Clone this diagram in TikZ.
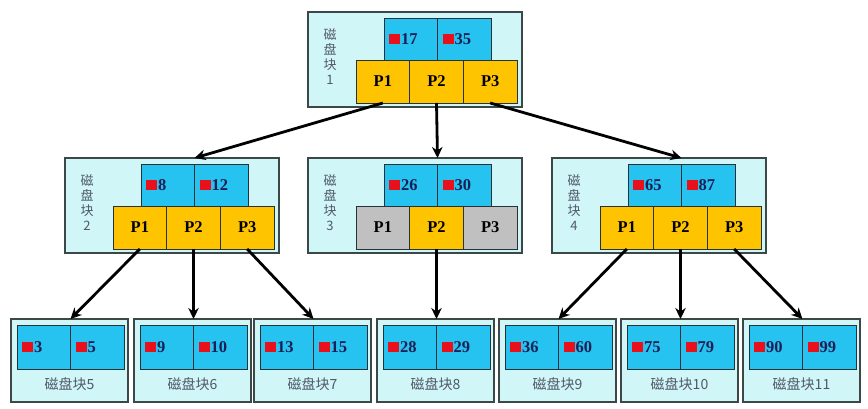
\documentclass[tikz,border=0pt]{standalone}
\usepackage{fontspec}
\setmainfont{Liberation Serif}
\newfontfamily\cjk{Noto Sans CJK SC}
\usetikzlibrary{arrows.meta}
\definecolor{pale}{HTML}{D0F6F7}
\definecolor{keyc}{HTML}{26C2F0}
\definecolor{pyel}{HTML}{FFC400}
\definecolor{pgray}{HTML}{C0C0C0}
\definecolor{bord}{HTML}{3C4848}
\definecolor{cellb}{HTML}{283038}
\definecolor{navy}{HTML}{1A1F55}
\definecolor{lab}{HTML}{505868}
\definecolor{sq}{HTML}{E8101A}
\tikzset{
  outerbox/.style={draw=bord, line width=1.4pt, fill=pale, inner sep=0pt, outer sep=0pt, anchor=north west},
  keycell/.style={draw=cellb, line width=0.9pt, fill=keyc, inner sep=0pt, outer sep=0pt, anchor=north west, minimum width=53.5pt, minimum height=#1},
  pcell/.style={draw=cellb, line width=0.9pt, fill=#1, inner sep=0pt, outer sep=0pt, anchor=north west, minimum width=53.67pt, minimum height=43pt, font=\bfseries\fontsize{16.5}{16.5}\selectfont},
  keytext/.style={anchor=west, inner sep=0pt, font=\bfseries\fontsize{16.5}{16.5}\selectfont, text=navy},
  arr/.style={-{Stealth[length=11pt,width=10.5pt]}, line width=2.8pt, black},
  vlabel/.style={align=center, inner sep=0pt, text=lab, font=\cjk\fontsize{13}{15}\selectfont},
  leaflabel/.style={inner sep=0pt, text=lab, font=\cjk\fontsize{14}{14}\selectfont}
}
\newcommand\redsq{\textcolor{sq}{\raisebox{0.5pt}{\rule{11pt}{9.5pt}}}\hspace{1pt}}
% name, X, Y, k1, k2, digit, fill p1, fill p3
\newcommand\ublock[8]{%
  \node[outerbox, minimum width=214pt, minimum height=95pt] (#1) at (#2,#3) {};
  \node[keycell=42pt] (#1k1) at (#2+76,#3+6) {};
  \node[keycell=42pt] (#1k2) at (#2+129.5,#3+6) {};
  \node[keytext] (#1t1) at ([xshift=5pt]#1k1.west) {\redsq#4};
  \node[keytext] (#1t2) at ([xshift=5pt]#1k2.west) {\redsq#5};
  \node[pcell=#7] (#1p1) at (#2+48,#3+48) {P1};
  \node[pcell=pyel] (#1p2) at (#2+101.67,#3+48) {P2};
  \node[pcell=#8] (#1p3) at (#2+155.33,#3+48) {P3};
  \node[vlabel] (#1l) at (#2+22,#3+45) {磁\\盘\\块\\#6};
}
% name, L, k1, k2, num
\newcommand\leafblock[5]{%
  \node[outerbox, minimum width=117pt, minimum height=83pt] (#1) at (#2,319) {};
  \node[keycell=44pt] (#1k1) at (#2+6,325) {};
  \node[keycell=44pt] (#1k2) at (#2+59.5,325) {};
  \node[keytext] (#1t1) at ([xshift=5pt]#1k1.west) {\redsq#3};
  \node[keytext] (#1t2) at ([xshift=5pt]#1k2.west) {\redsq#4};
  \node[leaflabel] (#1l) at (#2+58.5,384) {磁盘块#5};
}
\begin{document}
\begin{tikzpicture}[x=1pt,y=-1pt]
\useasboundingbox[fill=white] (0,0) rectangle (868,409);
\ublock{b1}{308}{12}{17}{35}{1}{pyel}{pyel}
\ublock{b2}{65}{158}{8}{12}{2}{pyel}{pyel}
\ublock{b3}{308}{158}{26}{30}{3}{pgray}{pgray}
\ublock{b4}{552}{158}{65}{87}{4}{pyel}{pyel}
\leafblock{l5}{11}{3}{5}{5}
\leafblock{l6}{134}{9}{10}{6}
\leafblock{l7}{254}{13}{15}{7}
\leafblock{l8}{377}{28}{29}{8}
\leafblock{l9}{499}{36}{60}{9}
\leafblock{l10}{621}{75}{79}{10}
\leafblock{l11}{743}{90}{99}{11}
\draw[arr] (b1p1.south) -- (b2k1.north east |- b2.north);
\draw[arr] (b1p2.south) -- (b3k1.north east |- b3.north);
\draw[arr] (b1p3.south) -- (b4k1.north east |- b4.north);
\draw[arr] (b2p1.south) -- (l5k1.north east |- l5.north);
\draw[arr] (b2p2.south) -- (l6k1.north east |- l6.north);
\draw[arr] (b2p3.south) -- (l7k1.north east |- l7.north);
\draw[arr] (b3p2.south) -- (l8k1.north east |- l8.north);
\draw[arr] (b4p1.south) -- (l9k1.north east |- l9.north);
\draw[arr] (b4p2.south) -- (l10k1.north east |- l10.north);
\draw[arr] (b4p3.south) -- (l11k1.north east |- l11.north);
\end{tikzpicture}
\end{document}
